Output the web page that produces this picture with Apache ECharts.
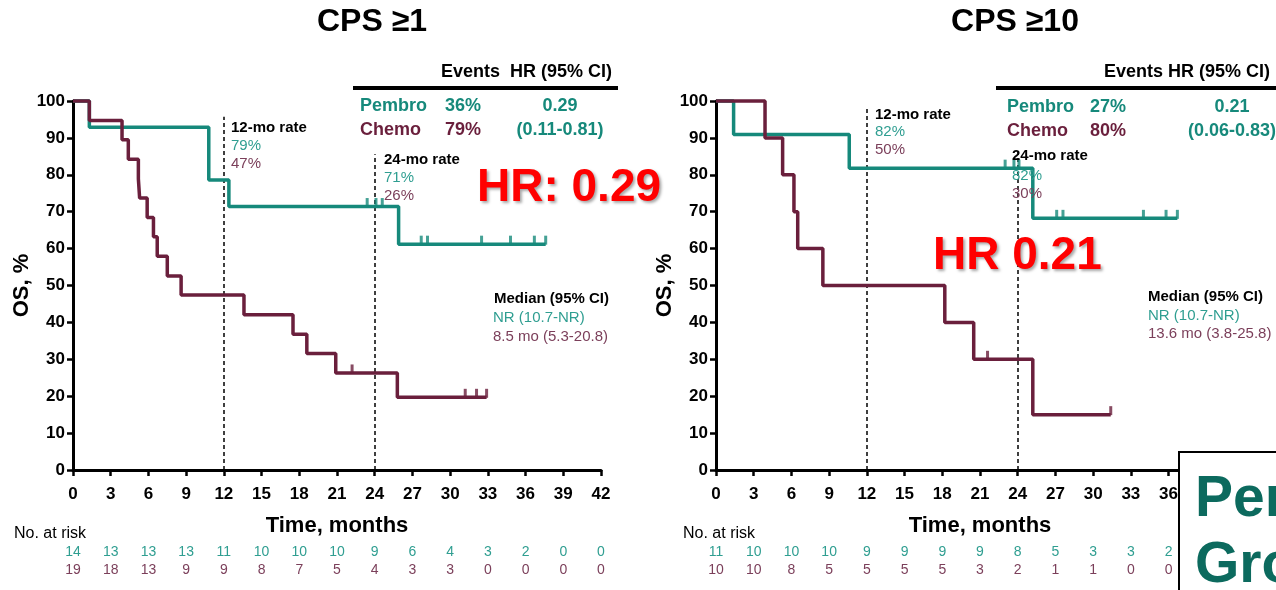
<!DOCTYPE html>
<html>
<head>
<meta charset="utf-8">
<script src="https://cdn.jsdelivr.net/npm/echarts@6/dist/echarts.min.js"></script>
<style>
  html, body { margin: 0; padding: 0; background: #fff; }
  #chart { width: 1276px; height: 590px; }
</style>
</head>
<body>
<div id="chart"></div>
<script>
// ---- Data: Kaplan-Meier overall survival (%), time in months ----
const monthTicks = [0, 3, 6, 9, 12, 15, 18, 21, 24, 27, 30, 33, 36, 39, 42];

// CPS >=1
const pembro1Time = [0, 1.3, 10.8, 12.4, 25.9, 37.6];
const pembro1Surv = [100, 92.9, 78.6, 71.4, 61.2, 61.2];
const pembro1CensTime = [23.4, 24.1, 24.6, 27.7, 28.2, 32.5, 34.8, 36.7, 37.6];
const pembro1CensSurv = [71.4, 71.4, 71.4, 61.2, 61.2, 61.2, 61.2, 61.2, 61.2];
const chemo1Time = [0, 1.3, 3.9, 4.4, 5.2, 5.3, 5.9, 6.4, 6.7, 7.5, 8.6, 13.6, 17.5, 18.6, 20.9, 25.8, 32.9];
const chemo1Surv = [100, 94.7, 89.5, 84.2, 78.9, 73.7, 68.4, 63.2, 57.9, 52.6, 47.4, 42.1, 36.8, 31.6, 26.3, 19.7, 19.7];
const chemo1CensTime = [22.2, 31.2, 32.1, 32.9];
const chemo1CensSurv = [26.3, 19.7, 19.7, 19.7];
const risk1Pembro = [14, 13, 13, 13, 11, 10, 10, 10, 9, 6, 4, 3, 2, 0, 0];
const risk1Chemo = [19, 18, 13, 9, 9, 8, 7, 5, 4, 3, 3, 0, 0, 0, 0];

// CPS >=10
const pembro10Time = [0, 1.4, 10.6, 25.2, 36.7];
const pembro10Surv = [100, 90.9, 81.8, 68.2, 68.2];
const pembro10CensTime = [23.0, 23.7, 24.1, 27.1, 27.6, 34.0, 35.8, 36.7];
const pembro10CensSurv = [81.8, 81.8, 81.8, 68.2, 68.2, 68.2, 68.2, 68.2];
const chemo10Time = [0, 3.9, 5.3, 6.2, 6.5, 8.5, 18.2, 20.5, 25.2, 31.4];
const chemo10Surv = [100, 90, 80, 70, 60, 50, 40, 30, 15, 15];
const chemo10CensTime = [21.6, 31.4];
const chemo10CensSurv = [30, 15];
const risk10Pembro = [11, 10, 10, 10, 9, 9, 9, 9, 8, 5, 3, 3, 2];
const risk10Chemo = [10, 10, 8, 5, 5, 5, 5, 3, 2, 1, 1, 0, 0];

// ---- Styling ----
const TEAL = '#16897b';
const MAROON = '#6a1f3c';
const TEAL_TXT = '#2f9e91';
const MAROON_TXT = '#7b3f5a';
const SANS = '"Liberation Sans", Arial, Helvetica, sans-serif';

const pairs = (xs, ys) => xs.map((x, i) => [x, ys[i]]);

function timeAxis(gi) {
  return {
    type: 'value', gridIndex: gi, min: 0, max: 42, interval: 3,
    axisLine: { show: true, onZero: false, lineStyle: { color: '#000', width: 3 } },
    axisTick: { show: true, length: 6, lineStyle: { color: '#000', width: 2.5 } },
    axisLabel: { color: '#000', fontFamily: SANS, fontWeight: 'bold', fontSize: 17, margin: 16,
                 showMinLabel: true, showMaxLabel: true },
    splitLine: { show: false },
    name: 'Time, months', nameLocation: 'middle', nameGap: 45,
    nameTextStyle: { color: '#000', fontFamily: SANS, fontWeight: 'bold', fontSize: 22 }
  };
}
function riskAxis(gi, values, color, offset) {
  return {
    type: 'value', gridIndex: gi, min: 0, max: 42, interval: 3, position: 'bottom', offset,
    axisLine: { show: false }, axisTick: { show: false }, splitLine: { show: false },
    axisLabel: {
      color, fontFamily: SANS, fontSize: 14, margin: 0, showMinLabel: true, showMaxLabel: true,
      formatter: v => { const k = Math.round(v / 3); return k < values.length ? String(values[k]) : ''; }
    }
  };
}
function survAxis(gi) {
  return {
    type: 'value', gridIndex: gi, min: 0, max: 100, interval: 10,
    axisLine: { show: true, onZero: false, lineStyle: { color: '#000', width: 3 } },
    axisTick: { show: true, length: 6, lineStyle: { color: '#000', width: 2.5 } },
    axisLabel: { color: '#000', fontFamily: SANS, fontWeight: 'bold', fontSize: 17, margin: 8 },
    splitLine: { show: false },
    name: 'OS, %', nameLocation: 'middle', nameGap: 33,
    nameTextStyle: { color: '#000', fontFamily: SANS, fontWeight: 'bold', fontSize: 22 }
  };
}
function kmLine(xi, yi, data, color, refs) {
  const s = {
    type: 'line', xAxisIndex: xi, yAxisIndex: yi, step: 'end', data, symbol: 'none',
    clip: false, z: 3, lineStyle: { color, width: 3.5 }
  };
  if (refs) {
    s.markLine = {
      silent: true, symbol: 'none', label: { show: false }, z: 1,
      data: refs
    };
  }
  return s;
}
function censor(xi, yi, data, color) {
  return {
    type: 'scatter', xAxisIndex: xi, yAxisIndex: yi, data,
    symbol: 'rect', symbolSize: [3, 9], symbolOffset: [0, -4], z: 4,
    itemStyle: { color }
  };
}
const dashV = { type: [4, 3], color: '#000', width: 1.5 };
const dotH = { type: [2, 2], color: '#000', width: 1.5 };
function refLines(t12, t24, medianEnd) {
  return [
    [{ coord: [12, 0], lineStyle: dashV }, { coord: [12, t12] }],
    [{ coord: [24, 0], lineStyle: dashV }, { coord: [24, t24] }],
    [{ coord: [0, 50], lineStyle: dotH }, { coord: [medianEnd, 50] }]
  ];
}

function txt(x, y, text, opts) {
  return {
    type: 'text', x, y, z: 20,
    style: Object.assign({ text, fill: '#000', font: '14px ' + SANS, textAlign: 'left', textVerticalAlign: 'middle' }, opts || {})
  };
}
const hrShadow = { textShadowColor: 'rgba(0,0,0,0.35)', textShadowBlur: 3, textShadowOffsetX: 2, textShadowOffsetY: 2 };

const graphic = [
  // titles
  txt(372, 22, 'CPS \u22651', { font: 'bold 32px ' + SANS, textAlign: 'center' }),
  txt(1015, 22, 'CPS \u226510', { font: 'bold 32px ' + SANS, textAlign: 'center' }),

  // CPS >=1 events table
  txt(612, 72, 'Events  HR (95% CI)', { font: 'bold 18px ' + SANS, textAlign: 'right' }),
  { type: 'rect', shape: { x: 353, y: 86, width: 265, height: 4 }, style: { fill: '#000' }, z: 20 },
  txt(360, 106, 'Pembro', { font: 'bold 18px ' + SANS, fill: TEAL }),
  txt(445, 106, '36%', { font: 'bold 18px ' + SANS, fill: TEAL }),
  txt(560, 106, '0.29', { font: 'bold 18px ' + SANS, fill: TEAL, textAlign: 'center' }),
  txt(360, 130, 'Chemo', { font: 'bold 18px ' + SANS, fill: MAROON }),
  txt(445, 130, '79%', { font: 'bold 18px ' + SANS, fill: MAROON }),
  txt(560, 130, '(0.11-0.81)', { font: 'bold 18px ' + SANS, fill: TEAL, textAlign: 'center' }),

  // CPS >=1 rate and median annotations
  txt(231, 128, '12-mo rate', { font: 'bold 15px ' + SANS }),
  txt(231, 146, '79%', { font: '15px ' + SANS, fill: TEAL_TXT }),
  txt(231, 164, '47%', { font: '15px ' + SANS, fill: MAROON_TXT }),
  txt(384, 160, '24-mo rate', { font: 'bold 15px ' + SANS }),
  txt(384, 178, '71%', { font: '15px ' + SANS, fill: TEAL_TXT }),
  txt(384, 196, '26%', { font: '15px ' + SANS, fill: MAROON_TXT }),
  txt(609, 299, 'Median (95% CI)', { font: 'bold 15px ' + SANS, textAlign: 'right' }),
  txt(493, 318, 'NR (10.7-NR)', { font: '15px ' + SANS, fill: TEAL_TXT }),
  txt(493, 337, '8.5 mo (5.3-20.8)', { font: '15px ' + SANS, fill: MAROON_TXT }),
  txt(477, 188, 'HR: 0.29', Object.assign({ font: 'bold 46px ' + SANS, fill: '#ff0000' }, hrShadow)),

  // CPS >=10 events table
  txt(1270, 72, 'Events HR (95% CI)', { font: 'bold 18px ' + SANS, textAlign: 'right' }),
  { type: 'rect', shape: { x: 996, y: 86, width: 290, height: 4 }, style: { fill: '#000' }, z: 20 },
  txt(1007, 107, 'Pembro', { font: 'bold 18px ' + SANS, fill: TEAL }),
  txt(1090, 107, '27%', { font: 'bold 18px ' + SANS, fill: TEAL }),
  txt(1232, 107, '0.21', { font: 'bold 18px ' + SANS, fill: TEAL, textAlign: 'center' }),
  txt(1007, 131, 'Chemo', { font: 'bold 18px ' + SANS, fill: MAROON }),
  txt(1090, 131, '80%', { font: 'bold 18px ' + SANS, fill: MAROON }),
  txt(1232, 131, '(0.06-0.83)', { font: 'bold 18px ' + SANS, fill: TEAL, textAlign: 'center' }),

  // CPS >=10 rate and median annotations
  txt(875, 115, '12-mo rate', { font: 'bold 15px ' + SANS }),
  txt(875, 132, '82%', { font: '15px ' + SANS, fill: TEAL_TXT }),
  txt(875, 150, '50%', { font: '15px ' + SANS, fill: MAROON_TXT }),
  txt(1012, 156, '24-mo rate', { font: 'bold 15px ' + SANS }),
  txt(1012, 176, '82%', { font: '15px ' + SANS, fill: TEAL_TXT }),
  txt(1012, 194, '30%', { font: '15px ' + SANS, fill: MAROON_TXT }),
  txt(1148, 297, 'Median (95% CI)', { font: 'bold 15px ' + SANS }),
  txt(1148, 316, 'NR (10.7-NR)', { font: '15px ' + SANS, fill: TEAL_TXT }),
  txt(1148, 334, '13.6 mo (3.8-25.8)', { font: '15px ' + SANS, fill: MAROON_TXT }),
  txt(933, 256, 'HR 0.21', Object.assign({ font: 'bold 46px ' + SANS, fill: '#ff0000' }, hrShadow)),

  // number-at-risk captions
  txt(14, 534, 'No. at risk', { font: '16px ' + SANS }),
  txt(683, 534, 'No. at risk', { font: '16px ' + SANS }),

  // group panel in the lower right corner
  { type: 'rect', z: 30, shape: { x: 1179, y: 452, width: 120, height: 150 },
    style: { fill: '#fff', stroke: '#000', lineWidth: 2 } },
  Object.assign(txt(1195, 500, 'Pembrolizumab', { font: 'bold 57px ' + SANS, fill: '#0c6a5e' }), { z: 31 }),
  Object.assign(txt(1195, 566, 'Group', { font: 'bold 57px ' + SANS, fill: '#0c6a5e' }), { z: 31 })
];

const option = {
  backgroundColor: '#fff',
  animation: false,
  grid: [
    { left: 73, top: 101, width: 528, height: 369 },
    { left: 716, top: 101, width: 528, height: 369 }
  ],
  xAxis: [
    timeAxis(0), timeAxis(1),
    riskAxis(0, risk1Pembro, TEAL_TXT, 75), riskAxis(0, risk1Chemo, MAROON_TXT, 93),
    riskAxis(1, risk10Pembro, TEAL_TXT, 75), riskAxis(1, risk10Chemo, MAROON_TXT, 93)
  ],
  yAxis: [survAxis(0), survAxis(1)],
  series: [
    kmLine(0, 0, pairs(pembro1Time, pembro1Surv), TEAL, refLines(95.7, 85.6, 43.4)),
    kmLine(0, 0, pairs(chemo1Time, chemo1Surv), MAROON),
    censor(0, 0, pairs(pembro1CensTime, pembro1CensSurv), TEAL),
    censor(0, 0, pairs(chemo1CensTime, chemo1CensSurv), MAROON),
    kmLine(1, 1, pairs(pembro10Time, pembro10Surv), TEAL, refLines(98.4, 87, 43.4)),
    kmLine(1, 1, pairs(chemo10Time, chemo10Surv), MAROON),
    censor(1, 1, pairs(pembro10CensTime, pembro10CensSurv), TEAL),
    censor(1, 1, pairs(chemo10CensTime, chemo10CensSurv), MAROON)
  ],
  graphic
};

const chart = echarts.init(document.getElementById('chart'), null, { renderer: 'canvas' });
chart.setOption(option);
</script>
</body>
</html>
